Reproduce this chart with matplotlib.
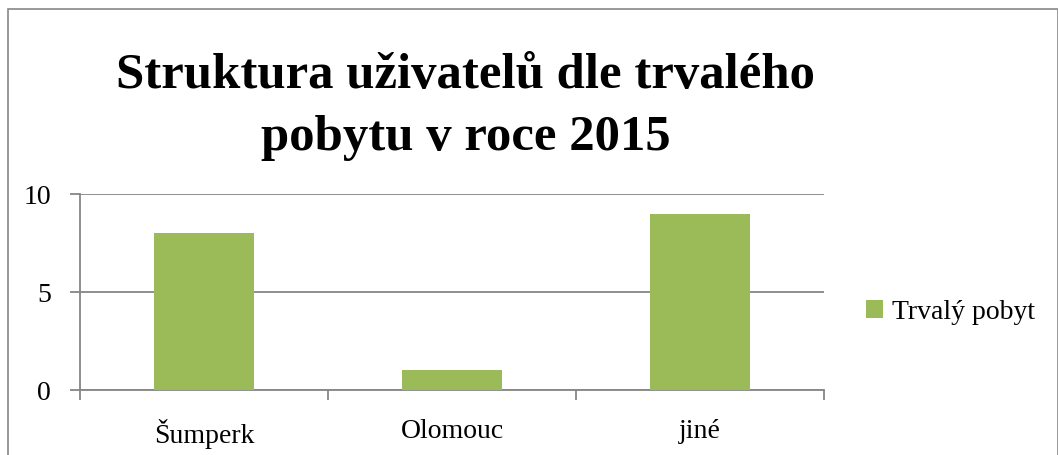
import matplotlib
matplotlib.use("Agg")
import matplotlib.pyplot as plt
from matplotlib.patches import Rectangle

categories = ['Šumperk', 'Olomouc', 'jiné']
values = [8, 1, 9]
series_name = 'Trvalý pobyt'
title = 'Struktura uživatelů dle trvalého\npobytu v roce 2015'
yticks = [0, 5, 10]

plt.rcParams['font.family'] = ['Liberation Serif', 'DejaVu Serif']

W, H = 1058, 456
fig = plt.figure(figsize=(W / 100, H / 100), dpi=100)
ax = fig.add_axes([80 / W, 1 - 391 / H, (824 - 80) / W, (391 - 195) / H])

x = list(range(len(categories)))
ax.bar(x, values, width=0.4, color='#9BBB59', label=series_name, zorder=3)

ax.set_xlim(-0.5, len(categories) - 0.5)
ax.set_ylim(0, 10)
ax.set_yticks(yticks)
ax.set_yticklabels([str(v) for v in yticks], fontsize=20)
ax.set_xticks(x)
ax.set_xticklabels(categories, fontsize=20)
ax.set_xticks([i - 0.5 for i in range(len(categories) + 1)], minor=True)

grid_c = '#868686'
ax.grid(axis='y', color=grid_c, linewidth=1.3, zorder=0)
for s in ['top', 'right']:
    ax.spines[s].set_visible(False)
ax.spines['left'].set_color(grid_c)
ax.spines['bottom'].set_color(grid_c)
ax.spines['left'].set_linewidth(1.3)
ax.spines['bottom'].set_linewidth(1.3)
ax.tick_params(axis='x', which='major', length=0, pad=20)
ax.tick_params(axis='x', which='minor', length=7, width=1.3, color=grid_c, direction='out')
ax.tick_params(axis='y', length=7, width=1.3, color=grid_c, pad=14)

# title, one text per line so the baselines sit where they do in the reference
for line, base in zip(title.split('\n'), [88, 150]):
    fig.text(466 / W, 1 - base / H, line, ha='center', va='baseline',
             fontsize=36.5, fontweight='bold')

fig.legend(loc='center left', bbox_to_anchor=(855 / W, 1 - 313 / H), frameon=False,
           fontsize=20, handlelength=0.62, handleheight=0.62, handletextpad=0.3,
           borderaxespad=0)

fig.patches.append(Rectangle((8 / W, -0.05), (W - 8.5) / W, 1.05 - 10 / H,
                             transform=fig.transFigure, fill=False,
                             edgecolor='#888888', linewidth=1.2))

fig.savefig('out.png', dpi=100)
